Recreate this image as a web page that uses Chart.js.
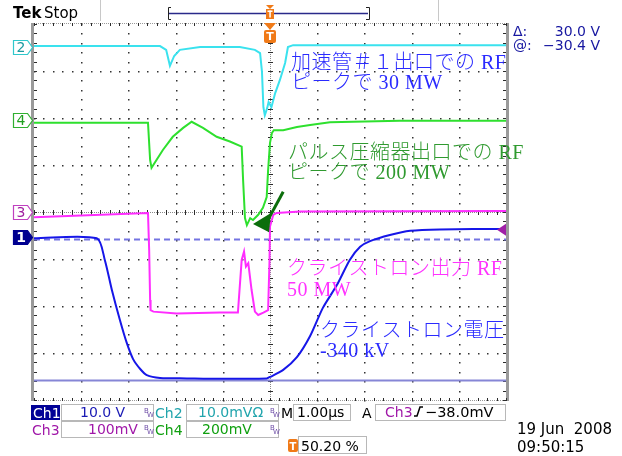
<!DOCTYPE html>
<html>
<head>
<meta charset="utf-8">
<script src="https://cdn.jsdelivr.net/npm/chart.js@4/dist/chart.umd.min.js"></script>
<style>
  html, body { margin: 0; padding: 0; background: #fff; }
  #wrap { width: 622px; height: 456px; }
</style>
</head>
<body>
<div id="wrap"><canvas id="scope" width="622" height="456"></canvas></div>
<script>
// --- Trace data: time in µs from trigger, level in screen divisions from centre ---
const ch1Time = [-5, -3.67, -3.50, -3.35, -3.18, -3.04, -2.90, -2.75, -2.61, -2.33, -1.76, -1.06, -0.07, 0, 0.28, 0.57, 0.85, 1.12, 1.42, 1.69, 1.91, 2.12, 2.54, 2.97, 3.60, 5];
const ch1Div  = [-0.56, -0.56, -1.02, -1.66, -2.30, -2.77, -3.13, -3.34, -3.47, -3.53, -3.54, -3.55, -3.54, -3.51, -3.36, -3.09, -2.64, -2.04, -1.55, -1.02, -0.74, -0.62, -0.49, -0.40, -0.37, -0.36];

const ch2Time = [-5, -3.60, -2.33, -2.20, -2.12, -2.03, -1.91, -1.48, -0.64, -0.32, -0.21, -0.17, -0.14, -0.11, -0.06, -0.03, 0.03, 0.11, 0.21, 0.32, 0.38, 0.49, 5];
const ch2Div  = [3.53, 3.53, 3.53, 3.45, 3.11, 3.32, 3.45, 3.51, 3.51, 3.45, 3.38, 2.98, 2.23, 2.06, 2.21, 2.34, 2.23, 2.53, 2.81, 3.17, 3.51, 3.55, 3.55];

const ch3Time = [-5, -2.585, -2.56, -2.54, -2.53, -2.47, -1.98, -1.06, -0.68, -0.60, -0.55, -0.51, -0.46, -0.39, -0.32, -0.25, -0.14, -0.04, -0.01, 0, 0.07, 0.14, 0.64, 5];
const ch3Div  = [-0.11, -0.02, -0.81, -1.87, -2.09, -2.12, -2.16, -2.14, -2.14, -1.02, -0.84, -1.16, -1.09, -1.66, -2.12, -2.19, -2.14, -2.09, -1.02, -0.31, -0.06, -0.02, 0.01, 0.02];

const ch4Time = [-5, -2.585, -2.54, -2.51, -2.27, -2.06, -1.84, -1.66, -1.42, -1.13, -0.85, -0.60, -0.57, -0.53, -0.49, -0.42, -0.36, -0.25, -0.15, -0.07, -0.04, 0, 0.04, 0.08, 0.28, 0.57, 0.85, 1.27, 2.75, 5];
const ch4Div  = [1.90, 1.90, 1.11, 0.94, 1.32, 1.60, 1.79, 1.92, 1.79, 1.60, 1.50, 1.39, 0.68, -0.13, -0.28, -0.13, -0.17, -0.06, 0.09, 0.32, 0.89, 1.47, 1.68, 1.74, 1.74, 1.81, 1.85, 1.91, 1.94, 1.94];

// channel ground markers (div) and Ch1 cursors (volts)
const chanNames = ['1', '2', '3', '4'];
const chanPos = [-0.54, 3.52, 0.0, 1.96];
const ch1VoltsPerDiv = 10.0;
const cursorVolts = [-0.4, -30.4];
const trigLevelDiv = -0.38;   // Ch3 -38.0 mV @ 100 mV/div

// annotation texts
const noteLines = [
    ['加速管＃１出口での RF', 'ピークで 30 MW'],
    ['パルス圧縮器出口での RF', 'ピークで 200 MW'],
    ['クライストロン出力 RF', '50 MW'],
    ['クライストロン電圧', '-340 kV']
];

const SANS = '"DejaVu Sans", "Liberation Sans", sans-serif';

function toPoints(xs, ys) {
    return xs.map((t, i) => ({ x: t, y: ys[i] }));
}

function trace(xs, ys, color, tension) {
    return {
        data: toPoints(xs, ys),
        borderColor: color,
        borderWidth: 2,
        pointRadius: 0,
        fill: false,
        tension: tension || 0
    };
}

// --- Graticule ---
function drawGraticule(chart) {
    const { ctx, chartArea: a, scales: { x, y } } = chart;
    const px = v => Math.round(x.getPixelForValue(v));
    const py = v => Math.round(y.getPixelForValue(v));
    ctx.save();

    ctx.fillStyle = '#333';
    for (let i = -4; i <= 4; i++) {
        if (i === 0) continue;
        for (let k = -20; k <= 20; k++) ctx.fillRect(px(i), py(k / 5), 1.5, 1.5);
    }
    for (let j = -3; j <= 3; j++) {
        if (j === 0) continue;
        for (let k = -25; k <= 25; k++) ctx.fillRect(px(k / 5), py(j), 1.5, 1.5);
    }

    // centre cross
    ctx.fillStyle = '#8a8a8a';
    for (let v = a.left; v <= a.right; v += 2) ctx.fillRect(v, py(0), 1, 1);
    for (let v = a.top; v <= a.bottom; v += 2) ctx.fillRect(px(0), v, 1, 1);
    ctx.fillStyle = '#2c2c2c';
    for (let k = -25; k <= 25; k++) ctx.fillRect(px(k / 5), py(0) - 2, 1, 5);
    for (let k = -20; k <= 20; k++) ctx.fillRect(px(0) - 2, py(k / 5), 5, 1);

    // frame
    ctx.fillStyle = '#9a9a9a';
    for (let v = a.left; v <= a.right; v += 2) {
        ctx.fillRect(v, Math.round(a.top) - 1, 1, 1);
        ctx.fillRect(v, Math.round(a.bottom), 1, 1);
    }
    ctx.fillRect(a.left - 3, a.top - 1, 3, a.bottom - a.top + 2);
    ctx.fillRect(a.right, a.top - 1, 3, a.bottom - a.top + 2);
    ctx.fillStyle = '#2c2c2c';
    for (let k = -25; k <= 25; k++) {
        ctx.fillRect(px(k / 5), a.top - 1, 1, 3);
        ctx.fillRect(px(k / 5), a.bottom - 2, 1, 3);
    }
    for (let k = -20; k <= 20; k++) {
        ctx.fillRect(a.left, py(k / 5), 3, 1);
        ctx.fillRect(a.right - 3, py(k / 5), 3, 1);
    }
    ctx.restore();
}

function drawCursors(chart) {
    const { ctx, chartArea: a, scales: { y } } = chart;
    ctx.save();
    cursorVolts.forEach((v, i) => {
        const py = Math.round(y.getPixelForValue(chanPos[0] + v / ch1VoltsPerDiv)) + 0.5;
        ctx.beginPath();
        ctx.strokeStyle = i === 0 ? '#7474e2' : '#8686d6';
        ctx.lineWidth = 2;
        ctx.setLineDash(i === 0 ? [6, 4] : []);
        ctx.moveTo(a.left, py);
        ctx.lineTo(a.right, py);
        ctx.stroke();
    });
    ctx.restore();
}

// --- Markers on the graticule edges ---
function drawMarkers(chart) {
    const { ctx, chartArea: a, scales: { x, y } } = chart;
    ctx.save();
    const tagStyle = [
        { stroke: '#000090', fill: '#000090', text: '#fff' },
        { stroke: '#30c8cc', fill: '#fff', text: '#1c9aa0' },
        { stroke: '#c040c0', fill: '#fff', text: '#a020a0' },
        { stroke: '#30b030', fill: '#fff', text: '#20a020' }
    ];
    chanNames.forEach((n, i) => {
        const cy = Math.round(y.getPixelForValue(chanPos[i])) + 0.5;
        const s = tagStyle[i];
        ctx.beginPath();
        ctx.moveTo(13.5, cy - 7);
        ctx.lineTo(27.5, cy - 7);
        ctx.lineTo(32.5, cy);
        ctx.lineTo(27.5, cy + 7);
        ctx.lineTo(13.5, cy + 7);
        ctx.closePath();
        ctx.fillStyle = s.fill;
        ctx.fill();
        ctx.strokeStyle = s.stroke;
        ctx.lineWidth = 1.2;
        ctx.stroke();
        ctx.fillStyle = s.text;
        ctx.font = (i === 0 ? 'bold ' : '') + '14px ' + SANS;
        ctx.textAlign = 'center';
        ctx.textBaseline = 'middle';
        ctx.fillText(n, 21, cy + 1);
    });

    // trigger level on the right edge
    const ty = y.getPixelForValue(chanPos[2] + trigLevelDiv);
    ctx.beginPath();
    ctx.fillStyle = '#a020a8';
    ctx.moveTo(a.right - 9, ty);
    ctx.lineTo(a.right, ty - 6);
    ctx.lineTo(a.right, ty + 6);
    ctx.closePath();
    ctx.fill();

    // trigger position at the top
    const tx = Math.round(x.getPixelForValue(0));
    ctx.fillStyle = '#f07a18';
    ctx.beginPath();
    ctx.moveTo(tx - 6, a.top - 1);
    ctx.lineTo(tx + 6, a.top - 1);
    ctx.lineTo(tx, a.top + 6);
    ctx.closePath();
    ctx.fill();
    ctx.beginPath();
    ctx.roundRect(tx - 6, a.top + 6, 12, 13, 2);
    ctx.fill();
    ctx.fillStyle = '#fff';
    ctx.font = 'bold 11px ' + SANS;
    ctx.textAlign = 'center';
    ctx.textBaseline = 'middle';
    ctx.fillText('T', tx, a.top + 13);
    ctx.restore();
}

// --- Japanese annotations + arrow ---
function drawNotes(chart) {
    const { ctx, scales: { x, y } } = chart;
    const anchors = [
        { t: 0.445, d: 3.16, color: '#2a2aff' },
        { t: 0.38, d: 1.245, color: '#2f9a2f' },
        { t: 0.36, d: -1.23, color: '#ff33ff' },
        { t: 1.06, d: -2.54, color: '#2a2aff' }
    ];
    ctx.save();
    ctx.font = '300 20px "Liberation Serif", "Noto Sans CJK JP", serif';
    ctx.letterSpacing = '0.5px';
    ctx.textAlign = 'left';
    ctx.textBaseline = 'middle';
    noteLines.forEach((lines, i) => {
        const an = anchors[i];
        ctx.fillStyle = an.color;
        lines.forEach((s, k) => {
            ctx.fillText(s, x.getPixelForValue(an.t), y.getPixelForValue(an.d) + k * 20.5);
        });
    });

    // dark green arrow pointing at the compressed pulse
    const P = (t, d) => [x.getPixelForValue(t), y.getPixelForValue(d)];
    ctx.strokeStyle = '#0c6e0c';
    ctx.fillStyle = '#0c6e0c';
    ctx.lineWidth = 3;
    ctx.beginPath();
    ctx.moveTo(...P(0.28, 0.43));
    ctx.lineTo(...P(-0.06, -0.2));
    ctx.stroke();
    ctx.beginPath();
    ctx.moveTo(...P(-0.36, -0.255));
    ctx.lineTo(...P(0.02, -0.02));
    ctx.lineTo(...P(-0.02, -0.43));
    ctx.closePath();
    ctx.fill();
    ctx.restore();
}

// --- Status text around the screen ---
function drawStatus(chart) {
    const ctx = chart.ctx;
    ctx.save();
    ctx.textAlign = 'left';
    ctx.textBaseline = 'alphabetic';
    const txt = (s, x, y, color, size, weight) => {
        ctx.font = (weight || '') + ' ' + (size || 14) + 'px ' + SANS;
        ctx.fillStyle = color;
        ctx.fillText(s, x, y);
    };
    const box = (x, y, w, h) => {
        ctx.strokeStyle = '#b8b8b8';
        ctx.lineWidth = 1;
        ctx.strokeRect(x + 0.5, y + 0.5, w, h);
    };
    const bw = (x, y) => {
        txt('B', x, y - 4, '#7050a8', 7);
        txt('W', x + 3, y, '#7050a8', 7);
    };

    // top bar
    txt('Tek', 13, 18, '#000', 15, 'bold');
    txt('Stop', 44, 18, '#000', 15);
    ctx.fillStyle = '#c8c8c8';
    ctx.fillRect(100, 0, 1, 21);
    ctx.fillRect(438, 0, 1, 21);
    ctx.strokeStyle = '#2a2a8a';
    ctx.lineWidth = 1.5;
    ctx.beginPath();
    ctx.moveTo(169, 13.5); ctx.lineTo(368, 13.5);
    ctx.stroke();
    ctx.strokeStyle = '#222';
    ctx.lineWidth = 1;
    ctx.beginPath();
    ctx.moveTo(171, 7.5); ctx.lineTo(168.5, 7.5); ctx.lineTo(168.5, 19.5); ctx.lineTo(171, 19.5);
    ctx.moveTo(366, 7.5); ctx.lineTo(369.5, 7.5); ctx.lineTo(369.5, 19.5); ctx.lineTo(366, 19.5);
    ctx.stroke();
    ctx.fillStyle = '#f07a18';
    ctx.beginPath();
    ctx.moveTo(266, 5); ctx.lineTo(274, 5); ctx.lineTo(270, 9); ctx.closePath();
    ctx.fill();
    ctx.fillRect(266, 9, 8, 10);
    ctx.fillStyle = '#fff';
    ctx.fillRect(267.5, 10.5, 5, 1.5);
    ctx.fillRect(269.3, 10.5, 1.5, 7);

    // cursor readout
    const navy = '#1616a0';
    txt('Δ:', 513, 36, navy, 14);
    txt('@:', 513, 50, navy, 14);
    ctx.textAlign = 'right';
    txt('30.0 V', 600, 36, navy, 14);
    txt('−30.4 V', 600, 50, navy, 14);
    ctx.textAlign = 'left';

    // row 1
    ctx.fillStyle = '#000096';
    ctx.fillRect(31, 405, 29, 15);
    txt('Ch1', 33, 418, '#fff', 14);
    box(61, 404, 92, 16);
    txt('10.0 V', 80, 417, '#1a1ab4', 14);
    bw(144, 417);
    txt('Ch2', 155, 418, '#20a4ac', 14);
    box(186, 404, 92, 16);
    txt('10.0mVΩ', 198, 417, '#20a4ac', 14);
    bw(270, 417);
    txt('M', 281, 418, '#000', 14);
    box(293, 404, 57, 16);
    txt('1.00µs', 297, 417, '#000', 14);
    txt('A', 362, 418, '#000', 14);
    box(375, 404, 130, 16);
    txt('Ch3', 385, 417, '#a018a8', 14);
    ctx.strokeStyle = '#000';
    ctx.lineWidth = 1.5;
    ctx.beginPath();
    ctx.moveTo(414, 416); ctx.lineTo(417, 416); ctx.lineTo(420, 407); ctx.lineTo(423, 407);
    ctx.stroke();
    txt('−38.0mV', 425, 417, '#000', 14.5);

    // row 2
    txt('Ch3', 32, 435, '#a018a8', 14);
    box(61, 421, 92, 16);
    txt('100mV', 88, 434, '#a018a8', 14);
    bw(144, 434);
    txt('Ch4', 155, 435, '#10a010', 14);
    box(186, 421, 92, 16);
    txt('200mV', 202, 434, '#10a010', 14);
    bw(270, 434);

    // row 3
    ctx.fillStyle = '#f07a18';
    ctx.beginPath();
    ctx.roundRect(288, 439, 10, 13, 2);
    ctx.fill();
    txt('T', 289.5, 450, '#fff', 10, 'bold');
    box(298, 436, 68, 17);
    txt('50.20 %', 301, 451, '#000', 14);

    // date
    txt('19 Jun  2008', 517, 434, '#000', 15);
    txt('09:50:15', 517, 452, '#000', 15);
    ctx.restore();
}

const scopePlugin = {
    id: 'scope',
    beforeDatasetsDraw(chart) {
        drawGraticule(chart);
        drawCursors(chart);
    },
    afterDatasetsDraw(chart) {
        drawMarkers(chart);
        drawNotes(chart);
    },
    afterDraw(chart) {
        drawStatus(chart);
    }
};

document.addEventListener('DOMContentLoaded', () => {
    new Chart(document.getElementById('scope'), {
        type: 'line',
        data: {
            datasets: [
                trace(ch1Time, ch1Div, '#1616e8', 0.25),
                trace(ch3Time, ch3Div, '#ff2cff'),
                trace(ch4Time, ch4Div, '#2ee02e'),
                trace(ch2Time, ch2Div, '#3ae2ee')
            ]
        },
        options: {
            responsive: false,
            animation: false,
            events: [],
            layout: { padding: { left: 34, right: 116, top: 24, bottom: 56 } },
            scales: {
                x: { type: 'linear', min: -5, max: 5, display: false },
                y: { type: 'linear', min: -4, max: 4, display: false }
            },
            plugins: { legend: { display: false }, tooltip: { enabled: false } }
        },
        plugins: [scopePlugin]
    });
});
</script>
</body>
</html>
